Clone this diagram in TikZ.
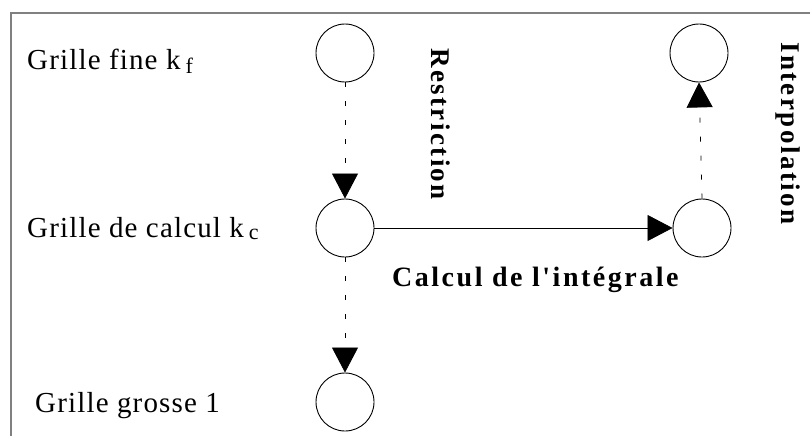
\documentclass[tikz,border=0pt]{standalone}
\usepackage{fontspec}
\setmainfont{Liberation Serif}
\newfontfamily\grillefont[LetterSpace=4]{Liberation Serif}
\newfontfamily\calculfont[LetterSpace=9]{Liberation Serif}
\newfontfamily\verticalfont[LetterSpace=9]{Liberation Serif}
\usepackage{tikz}
\usetikzlibrary{arrows.meta,positioning}
\newcommand{\indice}[2]{\hspace{5pt}\raisebox{-#2}{\fontsize{22}{22}\selectfont #1}}
\tikzset{
  noeud/.style={circle,draw,line width=0.9pt,minimum size=58pt,inner sep=0pt},
  fleche/.style={-{Triangle[length=25pt,width=26pt]},line width=0.8pt},
  pointille/.style={dash pattern=on 5pt off 14pt},
  grille/.style={anchor=base west,inner sep=0pt,font=\grillefont\fontsize{29}{29}\selectfont},
  etiq/.style={anchor=base west,inner sep=0pt,font=\calculfont\bfseries\fontsize{28}{28}\selectfont},
  vertetiq/.style={anchor=base west,inner sep=0pt,rotate=-90,font=\verticalfont\bfseries\fontsize{27}{27}\selectfont},
  cadre/.style={draw=black!50,line width=2pt}
}
\begin{document}
\begin{tikzpicture}[x=1pt,y=-1pt]
\useasboundingbox (0,0) rectangle (810,436);
\draw[cadre] (11,436)--(11,13)--(810,13);
% grilles
\node[noeud] (fine) at (345,53){};
\node[noeud] (calc) at (345,228){};
\node[noeud] (grosse) at (345,402){};
\node[noeud] (calcd) at (702,228){};
\node[noeud] (fined) at (699,53){};
% textes
\node[grille] (tfine) at (27,70){Grille fine k\indice{f}{3pt}};
\node[grille] (tcalc) at (27,237){Grille de calcul k\indice{c}{2pt}};
\node[grille] (tgrosse) at (35,412){Grille grosse 1};
\node[etiq] (tint) at (392,286){Calcul de l'intégrale};
\node[vertetiq] (trest) at (431,48){Restriction};
\node[vertetiq] (tinterp) at (781,42){Interpolation};
% fleches
\draw[fleche,pointille] (fine.south)--(calc.north);
\draw[fleche,pointille] (calc.south)--(grosse.north);
\draw[fleche] (calc.east)--(calcd.west);
\draw[fleche,pointille] (calcd.north)--(fined.south);
\end{tikzpicture}
\end{document}
